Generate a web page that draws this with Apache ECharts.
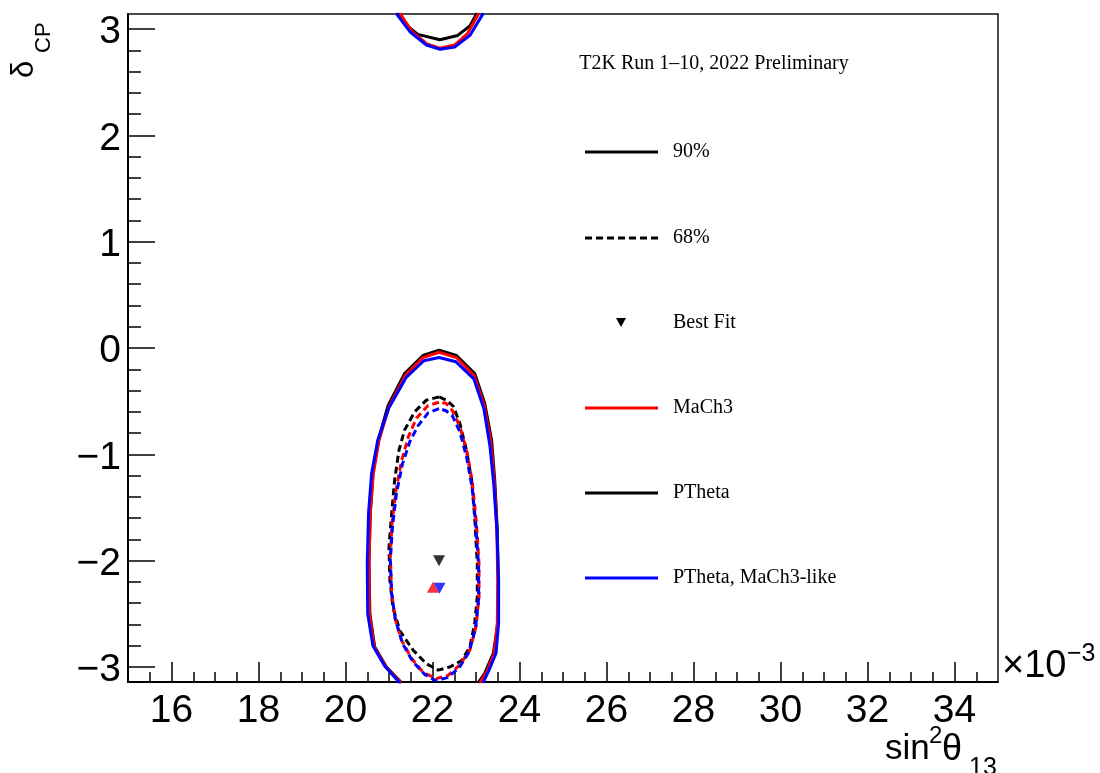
<!DOCTYPE html>
<html><head><meta charset="utf-8">
<script src="https://cdn.jsdelivr.net/npm/echarts@6/dist/echarts.min.js"></script>
<style>html,body{margin:0;padding:0;background:#fff}#c{width:1100px;height:773px}</style>
</head><body><div id="c"></div><script>
// Axis ranges and tick labels (sin^2 theta13 in units of 1e-3, delta_CP in rad)
const xRange = [15, 35];
const yRange = [-Math.PI, Math.PI];
const xMajorTicks = [16, 18, 20, 22, 24, 26, 28, 30, 32, 34];
const yMajorTicks = [-3, -2, -1, 0, 1, 2, 3];

// 90% contours (solid), lower island (from delta=-pi up) and upper piece (near +pi)
const ptheta90Lower = [[21.29,-3.15],[20.94,-3.00],[20.67,-2.81],[20.56,-2.50],[20.54,-2.02],[20.57,-1.55],[20.63,-1.18],[20.75,-0.87],[20.98,-0.54],[21.36,-0.24],[21.78,-0.07],[22.15,-0.02],[22.55,-0.07],[22.97,-0.24],[23.20,-0.52],[23.36,-0.87],[23.43,-1.24],[23.49,-1.71],[23.51,-2.18],[23.50,-2.59],[23.40,-2.87],[23.20,-3.06],[23.05,-3.15]];
const ptheta90Upper = [[21.20,3.15],[21.36,3.05],[21.66,2.95],[22.17,2.90],[22.58,2.94],[22.86,3.03],[23.02,3.15]];
const mach390Lower = [[21.27,-3.15],[20.93,-3.00],[20.66,-2.81],[20.55,-2.50],[20.54,-2.02],[20.57,-1.55],[20.64,-1.18],[20.77,-0.87],[21.00,-0.55],[21.37,-0.26],[21.78,-0.09],[22.15,-0.04],[22.55,-0.09],[22.96,-0.26],[23.19,-0.54],[23.34,-0.88],[23.42,-1.25],[23.48,-1.71],[23.50,-2.18],[23.49,-2.59],[23.42,-2.87],[23.24,-3.05],[23.09,-3.15]];
const mach390Upper = [[21.25,3.15],[21.52,2.98],[21.87,2.86],[22.17,2.82],[22.51,2.85],[22.81,2.96],[23.07,3.15]];
const pthetaLike90Lower = [[21.25,-3.15],[20.90,-2.99],[20.63,-2.80],[20.51,-2.50],[20.50,-2.02],[20.53,-1.55],[20.60,-1.18],[20.74,-0.87],[20.99,-0.57],[21.39,-0.28],[21.80,-0.12],[22.15,-0.09],[22.54,-0.13],[22.95,-0.29],[23.18,-0.57],[23.32,-0.92],[23.41,-1.29],[23.48,-1.71],[23.52,-2.18],[23.52,-2.59],[23.46,-2.87],[23.30,-3.03],[23.16,-3.15]];
const pthetaLike90Upper = [[21.16,3.15],[21.48,2.975],[21.86,2.85],[22.17,2.81],[22.51,2.83],[22.86,2.94],[23.17,3.15]];

// 68% contours (dashed), closed loops
const ptheta68 = [[22.15,-0.46],[21.86,-0.49],[21.59,-0.60],[21.36,-0.77],[21.23,-0.96],[21.13,-1.24],[21.06,-1.56],[21.00,-1.87],[21.02,-2.18],[21.09,-2.44],[21.25,-2.66],[21.55,-2.84],[21.86,-2.97],[22.13,-3.03],[22.40,-3.00],[22.67,-2.94],[22.86,-2.81],[22.97,-2.59],[23.03,-2.34],[23.03,-2.03],[22.97,-1.59],[22.90,-1.24],[22.78,-0.96],[22.63,-0.71],[22.48,-0.55],[22.32,-0.49],[22.15,-0.46]];
const mach368 = [[22.15,-0.51],[21.90,-0.54],[21.63,-0.66],[21.44,-0.84],[21.29,-1.06],[21.16,-1.34],[21.07,-1.65],[21.03,-1.96],[21.06,-2.28],[21.13,-2.53],[21.29,-2.75],[21.52,-2.92],[21.78,-3.05],[22.09,-3.11],[22.36,-3.08],[22.63,-2.98],[22.86,-2.84],[23.00,-2.62],[23.07,-2.34],[23.07,-2.03],[23.01,-1.65],[22.92,-1.28],[22.80,-0.99],[22.63,-0.74],[22.46,-0.59],[22.31,-0.52],[22.15,-0.51]];
const pthetaLike68 = [[22.15,-0.57],[21.90,-0.61],[21.67,-0.73],[21.48,-0.88],[21.31,-1.09],[21.17,-1.37],[21.08,-1.68],[21.03,-2.00],[21.06,-2.31],[21.15,-2.56],[21.31,-2.78],[21.55,-2.95],[21.82,-3.07],[22.08,-3.13],[22.34,-3.10],[22.61,-3.01],[22.84,-2.86],[22.99,-2.64],[23.06,-2.36],[23.06,-2.06],[23.00,-1.68],[22.91,-1.31],[22.78,-1.02],[22.63,-0.79],[22.46,-0.64],[22.31,-0.59],[22.15,-0.57]];

// Best fit points
const pthetaBest = [[22.15, -2.00]];
const mach3Best = [[22.01, -2.25]];
const pthetaLikeBest = [[22.16, -2.26]];

const legendTitle = 'T2K Run 1\u201310, 2022 Preliminary';
const legendLabels = ['90%', '68%', 'Best Fit', 'MaCh3', 'PTheta', 'PTheta, MaCh3-like'];

const colors = { mach3: '#ff0000', ptheta: '#000000', like: '#0000ff' };

// minor tick positions (axis decoration)
const xMinor = []; for (let v = 15.5; v < 35; v += 0.5) xMinor.push(+v.toFixed(1));
const yMinor = []; for (let v = -3.0; v <= 3.01; v += 0.2) yMinor.push(+v.toFixed(1));

const sansF = "'Liberation Sans', Arial, sans-serif";
const tickFont = { fontFamily: sansF, fontSize: 39, color: '#000' };

function solid(name, data, color) {
  return { name, type: 'line', data, showSymbol: false, symbol: 'none', clip: true,
    lineStyle: { color, width: 3 }, z: 3, silent: true };
}
function dashed(name, data, color) {
  return { name, type: 'line', data, showSymbol: false, symbol: 'none', clip: true,
    lineStyle: { color, width: 3, type: [7, 4] }, z: 3, silent: true };
}
function marker(name, data, color, down) {
  return { name, type: 'scatter', data, symbol: 'triangle', symbolSize: [12, 11],
    symbolRotate: down ? 180 : 0, itemStyle: { color }, z: 5, silent: true };
}

const chart = echarts.init(document.getElementById('c'), null, { renderer: 'canvas' });
const legX0 = 585, legX1 = 658, legTX = 673;
const rows = [152, 238, 323, 408, 493, 578];
const legFont = "20px 'Liberation Serif', 'Times New Roman', serif";
const graphics = [];
// Legend
graphics.push({ type: 'text', style: { text: legendTitle, x: 714, y: 64, font: legFont, fill: '#000', align: 'center', verticalAlign: 'middle' } });
graphics.push({ type: 'line', shape: { x1: legX0, y1: rows[0], x2: legX1, y2: rows[0] }, style: { stroke: '#000', lineWidth: 3 } });
graphics.push({ type: 'line', shape: { x1: legX0, y1: rows[1], x2: legX1, y2: rows[1] }, style: { stroke: '#000', lineWidth: 3, lineDash: [7, 4] } });
graphics.push({ type: 'polygon', shape: { points: [[616, 318], [626, 318], [621, 327]] }, style: { fill: '#000' } });
graphics.push({ type: 'line', shape: { x1: legX0, y1: rows[3], x2: legX1, y2: rows[3] }, style: { stroke: colors.mach3, lineWidth: 3 } });
graphics.push({ type: 'line', shape: { x1: legX0, y1: rows[4], x2: legX1, y2: rows[4] }, style: { stroke: colors.ptheta, lineWidth: 3 } });
graphics.push({ type: 'line', shape: { x1: legX0, y1: rows[5], x2: legX1, y2: rows[5] }, style: { stroke: colors.like, lineWidth: 3 } });
legendLabels.forEach((t, i) => {
  graphics.push({ type: 'text', style: { text: t, x: legTX, y: rows[i], font: legFont, fill: '#000', align: 'left', verticalAlign: 'middle' } });
});
// Axis titles
graphics.push({ type: 'text', style: { text: 'sin', x: 885, y: 749, font: '35px ' + sansF, fill: '#000', align: 'left', verticalAlign: 'middle' } });
graphics.push({ type: 'text', style: { text: '2', x: 929, y: 736, font: '24px ' + sansF, fill: '#000', align: 'left', verticalAlign: 'middle' } });
graphics.push({ type: 'text', style: { text: '\u03b8', x: 942, y: 750, font: '36px ' + sansF, fill: '#000', align: 'left', verticalAlign: 'middle' } });
graphics.push({ type: 'text', style: { text: '13', x: 969, y: 768.5, font: '25px ' + sansF, fill: '#000', align: 'left', verticalAlign: 'middle' } });
graphics.push({ type: 'text', style: { text: '\u00d710', x: 1002, y: 666.5, font: '38px ' + sansF, fill: '#000', align: 'left', verticalAlign: 'middle' } });
graphics.push({ type: 'text', style: { text: '\u22123', x: 1067, y: 654, font: '25px ' + sansF, fill: '#000', align: 'left', verticalAlign: 'middle' } });
graphics.push({ type: 'group', x: 24.5, y: 78, rotation: Math.PI / 2, children: [
  { type: 'text', style: { text: '\u03b4', x: 0, y: 0, font: '31px ' + sansF, fill: '#000', align: 'left', verticalAlign: 'middle' } },
  { type: 'text', style: { text: 'CP', x: 25, y: 19, font: '22px ' + sansF, fill: '#000', align: 'left', verticalAlign: 'middle' } }
]});

const fmt = v => (v < 0 ? '\u2212' : '') + Math.abs(v);

chart.setOption({
  animation: false,
  backgroundColor: '#fff',
  grid: { left: 128, top: 14, width: 870, height: 668, show: true, borderColor: '#111', borderWidth: 1.5, backgroundColor: 'transparent' },
  xAxis: [
    { type: 'value', min: xRange[0], max: xRange[1], position: 'bottom',
      axisLine: { show: true, onZero: false, lineStyle: { color: '#000', width: 2 } },
      axisTick: { show: true, inside: true, length: 20, customValues: xMajorTicks, lineStyle: { color: '#000', width: 1.5 } },
      axisLabel: Object.assign({ show: true, margin: 10, customValues: xMajorTicks, formatter: fmt, showMinLabel: true, showMaxLabel: true }, tickFont),
      splitLine: { show: false } },
    { type: 'value', min: xRange[0], max: xRange[1], position: 'bottom',
      axisLine: { show: false, onZero: false },
      axisTick: { show: true, inside: true, length: 10, customValues: xMinor, lineStyle: { color: '#000', width: 1.5 } },
      axisLabel: { show: false }, splitLine: { show: false } }
  ],
  yAxis: [
    { type: 'value', min: yRange[0], max: yRange[1], position: 'left',
      axisLine: { show: true, onZero: false, lineStyle: { color: '#000', width: 2 } },
      axisTick: { show: true, inside: true, length: 27, customValues: yMajorTicks, lineStyle: { color: '#000', width: 1.5 } },
      axisLabel: { show: true, margin: 7, customValues: yMajorTicks,
        formatter: v => '{a|' + fmt(v) + '}',
        rich: { a: { fontFamily: sansF, fontSize: 39, color: '#000', padding: [7, 0, 0, 0] } } },
      splitLine: { show: false } },
    { type: 'value', min: yRange[0], max: yRange[1], position: 'left', offset: 0,
      axisLine: { show: false, onZero: false },
      axisTick: { show: true, inside: true, length: 13, customValues: yMinor, lineStyle: { color: '#000', width: 1.5 } },
      axisLabel: { show: false }, splitLine: { show: false } }
  ],
  series: [
    solid('PTheta 90% lower', ptheta90Lower, colors.ptheta),
    solid('PTheta 90% upper', ptheta90Upper, colors.ptheta),
    solid('MaCh3 90% lower', mach390Lower, colors.mach3),
    solid('MaCh3 90% upper', mach390Upper, colors.mach3),
    solid('PTheta MaCh3-like 90% lower', pthetaLike90Lower, colors.like),
    solid('PTheta MaCh3-like 90% upper', pthetaLike90Upper, colors.like),
    dashed('PTheta 68%', ptheta68, colors.ptheta),
    dashed('MaCh3 68%', mach368, colors.mach3),
    dashed('PTheta MaCh3-like 68%', pthetaLike68, colors.like),
    marker('PTheta best fit', pthetaBest, colors.ptheta, true),
    marker('MaCh3 best fit', mach3Best, colors.mach3, false),
    marker('PTheta MaCh3-like best fit', pthetaLikeBest, colors.like, true)
  ],
  graphic: graphics
});
</script></body></html>
